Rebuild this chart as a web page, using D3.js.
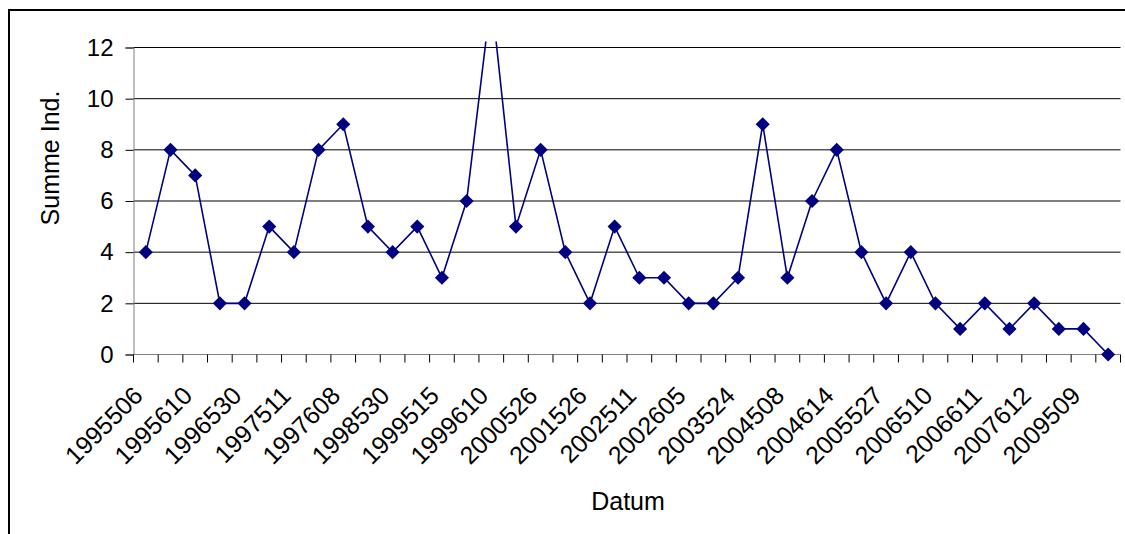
<!DOCTYPE html>
<html>
<head>
<meta charset="utf-8">
<script src="https://cdn.jsdelivr.net/npm/d3@7"></script>
<style>
  body { margin: 0; background: #fff; }
  svg { display: block; font-family: Arial, "Liberation Sans", sans-serif; }
</style>
</head>
<body>
<div id="chart"></div>
<script>
// Datum labels shown on the axis (every second category carries one)
const tickLabels = ['1995506', '1995610', '1996530', '1997511', '1997608', '1998530', '1999515',
  '1999610', '2000526', '2001526', '2002511', '2002605', '2003524', '2004508', '2004614',
  '2005527', '2006510', '2006611', '2007612', '2009509'];

// Summe Ind. per sampling date, 40 dates in order
const values = [4, 8, 7, 2, 2, 5, 4, 8, 9, 5, 4, 5, 3, 6, 14, 5, 8, 4, 2, 5,
  3, 3, 2, 2, 3, 9, 3, 6, 8, 4, 2, 4, 2, 1, 2, 1, 2, 1, 1, 0];

const yTicks = [0, 2, 4, 6, 8, 10, 12];

const width = 1125, height = 534;
const margin = { top: 47.5, right: 4.5, bottom: 179.5, left: 133.5 };
const innerW = width - margin.left - margin.right;
const innerH = height - margin.top - margin.bottom;

const svg = d3.select('#chart').append('svg')
  .attr('width', width)
  .attr('height', height);

// chart frame, open on the right and bottom like the cropped original
svg.append('rect')
  .attr('x', 9).attr('y', 10)
  .attr('width', width + 20).attr('height', height + 20)
  .attr('fill', 'none').attr('stroke', '#000').attr('stroke-width', 2);

const g = svg.append('g').attr('transform', `translate(${margin.left},${margin.top})`);

const x = d3.scaleBand().domain(d3.range(values.length)).range([0, innerW]).padding(0);
const y = d3.scaleLinear().domain([0, 12]).range([innerH, 0]);

// gridlines
g.append('g').selectAll('line')
  .data(yTicks.filter(t => t > 0))
  .join('line')
  .attr('x1', 0).attr('x2', innerW)
  .attr('y1', d => y(d)).attr('y2', d => y(d))
  .attr('stroke', '#000').attr('stroke-width', 1);

// y axis
const yAxis = g.append('g')
  .call(d3.axisLeft(y).tickValues(yTicks).tickSize(8).tickPadding(12));
yAxis.select('.domain').attr('stroke', '#808080');
yAxis.selectAll('.tick line').attr('stroke', '#000');
yAxis.selectAll('.tick text')
  .attr('font-size', 24).attr('fill', '#000');

// x axis: ticks between categories
const edges = d3.range(values.length + 1);
const xAxis = g.append('g').attr('transform', `translate(0,${innerH})`);
xAxis.append('line')
  .attr('x1', 0).attr('x2', innerW)
  .attr('stroke', '#808080').attr('stroke-width', 1);
xAxis.selectAll('line.tk')
  .data(edges)
  .join('line')
  .attr('class', 'tk')
  .attr('x1', d => d * x.step()).attr('x2', d => d * x.step())
  .attr('y1', 0).attr('y2', 8)
  .attr('stroke', '#000');

xAxis.selectAll('text')
  .data(tickLabels)
  .join('text')
  .attr('transform', (d, i) => `translate(${x(i * 2) + x.bandwidth() / 2 - 14},${30}) rotate(-45)`)
  .attr('text-anchor', 'end')
  .attr('dy', '0.71em')
  .attr('font-size', 25)
  .text(d => d);

// clip so the peak is cut just above the top gridline
svg.append('clipPath').attr('id', 'plotClip')
  .append('rect')
  .attr('x', -10).attr('y', -6)
  .attr('width', innerW + 20).attr('height', innerH + 20);

const cx = (d, i) => x(i) + x.bandwidth() / 2;

const line = d3.line()
  .x(cx)
  .y(d => y(d));

const series = g.append('g').attr('clip-path', 'url(#plotClip)');

series.append('path')
  .datum(values)
  .attr('d', line)
  .attr('fill', 'none')
  .attr('stroke', '#000080')
  .attr('stroke-width', 1.6);

series.selectAll('path.marker')
  .data(values)
  .join('path')
  .attr('class', 'marker')
  .attr('d', d3.symbol(d3.symbolSquare, 100))
  .attr('transform', (d, i) => `translate(${cx(d, i)},${y(d)}) rotate(45)`)
  .attr('fill', '#000080');

// axis titles
svg.append('text')
  .attr('x', 628).attr('y', 510)
  .attr('text-anchor', 'middle')
  .attr('font-size', 25)
  .text('Datum');

svg.append('text')
  .attr('transform', 'translate(59,158) rotate(-90)')
  .attr('text-anchor', 'middle')
  .attr('font-size', 25)
  .text('Summe Ind.');
</script>
</body>
</html>
